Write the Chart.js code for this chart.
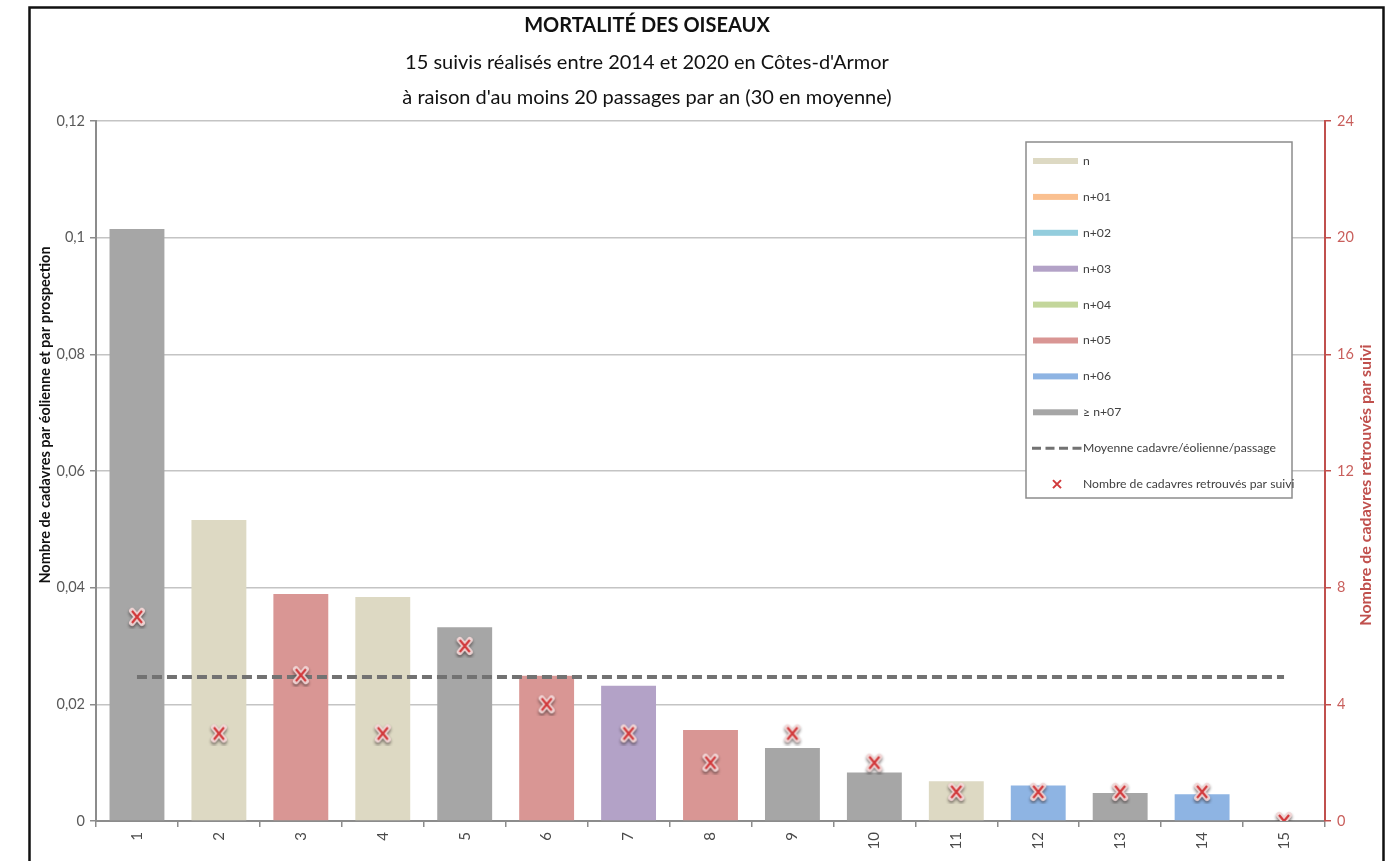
<!DOCTYPE html>
<html lang="fr">
<head>
<meta charset="utf-8">
<title>Mortalité des oiseaux</title>
<script src="https://cdn.jsdelivr.net/npm/chart.js@4.4.1/dist/chart.umd.min.js"></script>
<style>
  html, body { margin: 0; padding: 0; background: #fff; }
  #wrap { position: relative; width: 1386px; height: 861px; }
</style>
</head>
<body>
<div id="wrap"><canvas id="chart"></canvas></div>
<script>
// ---- Données ----
const categories = ['1','2','3','4','5','6','7','8','9','10','11','12','13','14','15'];

// Cadavres par éolienne et par prospection (axe gauche)
const mortalite = [0.1015, 0.0516, 0.0389, 0.0384, 0.0332, 0.0249, 0.0232, 0.0156, 0.0125, 0.0083, 0.0068, 0.0061, 0.0048, 0.0046, 0];

// Année de suivi de chaque parc (indice dans groupLabels)
const groupeSuivi = [7, 0, 5, 0, 7, 5, 3, 5, 7, 7, 0, 6, 7, 6, 7];
const groupLabels = ['n', 'n+01', 'n+02', 'n+03', 'n+04', 'n+05', 'n+06', '\u2265 n+07'];
const groupColors = ['#ddd9c3', '#fac090', '#93cddd', '#b3a2c7', '#c3d69b', '#d99694', '#8eb4e3', '#a6a6a6'];

// Moyenne cadavre/éolienne/passage
const moyenne = [0.0247, 0.0247, 0.0247, 0.0247, 0.0247, 0.0247, 0.0247, 0.0247, 0.0247, 0.0247, 0.0247, 0.0247, 0.0247, 0.0247, 0.0247];

// Nombre de cadavres retrouvés par suivi (axe droit)
const cadavres = [7, 3, 5, 3, 6, 4, 3, 2, 3, 2, 1, 1, 1, 1, 0];

const titleLines = [
  'MORTALITÉ DES OISEAUX',
  "15 suivis réalisés entre 2014 et 2020 en Côtes-d'Armor",
  "à raison d'au moins 20 passages par an (30 en moyenne)"
];
const leftTitle = 'Nombre de cadavres par éolienne et par prospection';
const rightTitle = 'Nombre de cadavres retrouvés par suivi';
const lineLabel = 'Moyenne cadavre/éolienne/passage';
const pointLabel = 'Nombre de cadavres retrouvés par suivi';

// ---- Styles ----
const FONT = 'Lato, "Open Sans", sans-serif';
const RED = '#c0504d';
const AXIS_GREY = '#8c8c8c';
const TEXT_GREY = '#595959';

// Croix rouge avec halo, utilisée comme symbole de point
function makeCrossMarker() {
  const c = document.createElement('canvas');
  const s = 24;
  c.width = s; c.height = s;
  const g = c.getContext('2d');
  const m = s / 2, dx = 5, dy = 6;
  const cross = () => {
    g.beginPath();
    g.moveTo(m - dx, m - dy); g.lineTo(m + dx, m + dy);
    g.moveTo(m + dx, m - dy); g.lineTo(m - dx, m + dy);
    g.stroke();
  };
  g.lineCap = 'round';
  g.shadowColor = 'rgba(40,30,30,0.6)';
  g.shadowBlur = 3;
  g.shadowOffsetY = 2;
  g.strokeStyle = 'rgba(242,214,214,0.95)';
  g.lineWidth = 6;
  cross();
  g.shadowColor = 'transparent';
  g.strokeStyle = '#d1393b';
  g.lineWidth = 2.2;
  g.lineCap = 'butt';
  cross();
  return c;
}
const crossMarker = makeCrossMarker();

// Une série de barres par année de suivi
const barDatasets = groupLabels.map((label, k) => ({
  type: 'bar',
  label: label,
  legendKind: 'bar',
  data: mortalite.map((v, i) => (groupeSuivi[i] === k ? v : null)),
  backgroundColor: groupColors[k],
  borderWidth: 0,
  stack: 'suivi',
  barPercentage: 0.67,
  categoryPercentage: 1,
  yAxisID: 'y',
  order: 2
}));

const datasets = barDatasets.concat([
  {
    type: 'line',
    label: lineLabel,
    legendKind: 'dash',
    data: moyenne,
    borderColor: '#727272',
    borderWidth: 4,
    borderDash: [10, 5],
    pointRadius: 0,
    fill: false,
    yAxisID: 'y',
    order: 1
  },
  {
    type: 'line',
    label: pointLabel,
    legendKind: 'cross',
    data: cadavres,
    showLine: false,
    pointStyle: crossMarker,
    pointRadius: 7,
    yAxisID: 'y2',
    order: 0
  }
]);

// Fond, cadre et titres
const decorPlugin = {
  id: 'decor',
  beforeDraw(chart) {
    const { ctx, width, height } = chart;
    ctx.save();
    ctx.fillStyle = '#fff';
    ctx.fillRect(0, 0, width, height);
    ctx.strokeStyle = '#111';
    ctx.lineWidth = 2.5;
    ctx.strokeRect(29.5, 7.5, 1354, height + 20);
    ctx.restore();
  },
  afterDraw(chart) {
    const { ctx, chartArea: a } = chart;
    ctx.save();
    ctx.fillStyle = '#111';
    ctx.textAlign = 'center';
    ctx.textBaseline = 'middle';
    const cx = 647;
    ctx.font = `bold 20px ${FONT}`;
    ctx.fillText(titleLines[0], cx, 26);
    ctx.font = `20px ${FONT}`;
    ctx.fillText(titleLines[1], cx, 63);
    ctx.fillText(titleLines[2], cx, 98);

    const h = a.bottom - a.top;
    ctx.save();
    ctx.translate(45, a.top + h * 0.42);
    ctx.rotate(-Math.PI / 2);
    ctx.font = `bold 14.5px ${FONT}`;
    ctx.fillStyle = '#111';
    ctx.fillText(leftTitle, 0, 0);
    ctx.restore();

    ctx.save();
    ctx.translate(1366, a.top + h * 0.52);
    ctx.rotate(-Math.PI / 2);
    ctx.font = `bold 16px ${FONT}`;
    ctx.fillStyle = RED;
    ctx.fillText(rightTitle, 0, 0);
    ctx.restore();
    ctx.restore();
  }
};

// Légende encadrée dans la zone de tracé
const boxLegendPlugin = {
  id: 'boxLegend',
  afterDatasetsDraw(chart) {
    const { ctx, chartArea: a } = chart;
    const x0 = a.right - 299, y0 = a.top + 21, w = 266, h = 356;
    const rowH = 35.9;
    ctx.save();
    ctx.fillStyle = '#fff';
    ctx.fillRect(x0, y0, w, h);
    ctx.strokeStyle = AXIS_GREY;
    ctx.lineWidth = 1.5;
    ctx.strokeRect(x0, y0, w, h);
    ctx.font = `12.2px ${FONT}`;
    ctx.textAlign = 'left';
    ctx.textBaseline = 'middle';
    chart.data.datasets.forEach((ds, i) => {
      const y = y0 + 19 + i * rowH;
      if (ds.legendKind === 'bar') {
        ctx.fillStyle = ds.backgroundColor;
        ctx.fillRect(x0 + 7, y - 3, 45, 6);
      } else if (ds.legendKind === 'dash') {
        ctx.save();
        ctx.strokeStyle = ds.borderColor;
        ctx.lineWidth = 3;
        ctx.setLineDash([9, 4.5]);
        ctx.beginPath();
        ctx.moveTo(x0 + 6, y);
        ctx.lineTo(x0 + 57, y);
        ctx.stroke();
        ctx.restore();
      } else {
        ctx.save();
        ctx.strokeStyle = '#d1393b';
        ctx.lineWidth = 2;
        const cx = x0 + 31, d = 4;
        ctx.beginPath();
        ctx.moveTo(cx - d, y - d); ctx.lineTo(cx + d, y + d);
        ctx.moveTo(cx + d, y - d); ctx.lineTo(cx - d, y + d);
        ctx.stroke();
        ctx.restore();
      }
      ctx.fillStyle = '#404040';
      ctx.fillText(ds.label, x0 + 57, y);
    });
    ctx.restore();
  }
};

const fmtFr = v => String(Math.round(v * 100) / 100).replace('.', ',');

new Chart(document.getElementById('chart'), {
  data: { labels: categories, datasets: datasets },
  options: {
    responsive: true,
    maintainAspectRatio: false,
    animation: false,
    layout: { padding: { top: 121, left: 0, right: 0, bottom: 0 } },
    plugins: {
      legend: { display: false },
      title: { display: false },
      tooltip: { enabled: false }
    },
    scales: {
      x: {
        type: 'category',
        stacked: true,
        offset: true,
        grid: {
          offset: true,
          drawOnChartArea: false,
          drawTicks: true,
          tickLength: 6,
          tickColor: AXIS_GREY,
          lineWidth: 1.5
        },
        border: { display: true, color: AXIS_GREY, width: 2 },
        ticks: {
          minRotation: 90,
          maxRotation: 90,
          padding: 5,
          color: '#4a4a4a',
          font: { family: FONT, size: 15 }
        },
        afterFit(scale) { scale.height = 40; }
      },
      y: {
        type: 'linear',
        position: 'left',
        min: 0,
        max: 0.12,
        ticks: {
          stepSize: 0.02,
          padding: 5,
          color: TEXT_GREY,
          font: { family: FONT, size: 14.5 },
          callback: v => fmtFr(v)
        },
        grid: {
          color: '#c4c4c4',
          lineWidth: 1.5,
          tickLength: 6,
          tickColor: AXIS_GREY
        },
        border: { display: true, color: AXIS_GREY, width: 2 },
        afterFit(scale) { scale.width = 96; }
      },
      y2: {
        type: 'linear',
        position: 'right',
        min: 0,
        max: 24,
        ticks: {
          stepSize: 4,
          padding: 6,
          color: '#c95f5c',
          font: { family: FONT, size: 14.5 }
        },
        grid: {
          drawOnChartArea: false,
          tickLength: 6,
          tickColor: RED,
          lineWidth: 1.5
        },
        border: { display: true, color: RED, width: 2 },
        afterFit(scale) { scale.width = 61; }
      }
    }
  },
  plugins: [decorPlugin, boxLegendPlugin]
});
</script>
</body>
</html>
